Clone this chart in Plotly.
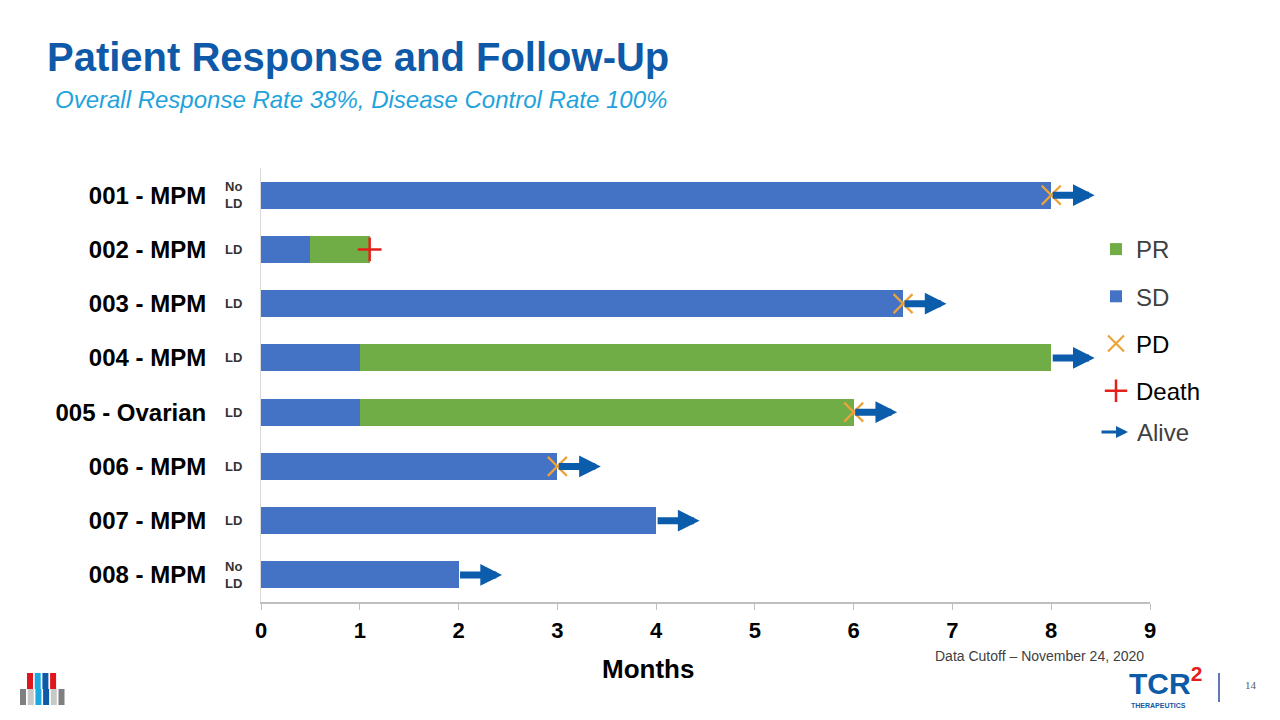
import plotly.graph_objects as go

# --- data -------------------------------------------------------------------
patients = ["001 - MPM", "002 - MPM", "003 - MPM", "004 - MPM",
            "005 - Ovarian", "006 - MPM", "007 - MPM", "008 - MPM"]
ld_status = ["No<br>LD", "LD", "LD", "LD", "LD", "LD", "LD", "No<br>LD"]
sd_months = [8, 0.5, 6.5, 1, 1, 3, 4, 2]
pr_months = [0, 0.6, 0, 7, 5, 0, 0, 0]
pd_months = [8, None, 6.5, None, 6, 3, None, None]
death_months = [None, 1.1, None, None, None, None, None, None]
alive = [True, False, True, True, True, True, True, True]
month_ticks = list(range(10))

SD_BLUE = "#4472C4"
PR_GREEN = "#70AD47"
PD_ORANGE = "#EDA23A"
DEATH_RED = "#E3201B"
ARROW_BLUE = "#0B5CAB"
FONT = "Liberation Sans, Arial, sans-serif"

ARROW_LEN = 0.44  # months, visual length of the "Alive" arrow

rows = list(range(len(patients)))

# the page body adds an 8px margin, so target pixels are shifted back by it
OFF = 8
PLOT_L, PLOT_R, PLOT_T, PLOT_B = 261 - OFF, 1150 - OFF, 168 - OFF, 602 - OFF


def px_x(px):
    return (px - OFF - PLOT_L) / (PLOT_R - PLOT_L)


def px_y(py):
    return (PLOT_B - (py - OFF)) / (PLOT_B - PLOT_T)


fig = go.Figure()

fig.add_trace(go.Bar(
    x=sd_months, y=rows, orientation="h", name="SD",
    marker=dict(color=SD_BLUE, line=dict(width=0)),
    legendrank=2, legendgroup="sd", hoverinfo="x",
))
fig.add_trace(go.Bar(
    x=pr_months, y=rows, orientation="h", name="PR",
    marker=dict(color=PR_GREEN, line=dict(width=0)),
    legendrank=1, legendgroup="pr", hoverinfo="x",
))

pd_x = [v for v in pd_months if v is not None]
pd_y = [r for r, v in zip(rows, pd_months) if v is not None]
fig.add_trace(go.Scatter(
    x=pd_x, y=pd_y, mode="markers", name="<span style='color:#000'>PD</span>",
    marker=dict(symbol="x-thin", size=19, line=dict(color=PD_ORANGE, width=2.2)),
    legendrank=3, legendgroup="pd",
))

death_x = [v for v in death_months if v is not None]
death_y = [r for r, v in zip(rows, death_months) if v is not None]
fig.add_trace(go.Scatter(
    x=death_x, y=death_y, mode="markers", name="<span style='color:#000'>Death</span>",
    marker=dict(symbol="cross-thin", size=17, line=dict(color=DEATH_RED, width=2.5)),
    legendrank=4, legendgroup="death",
))

annotations = []

# "Alive" arrows at the end of each ongoing bar
for r, sd, pr, a in zip(rows, sd_months, pr_months, alive):
    if not a:
        continue
    end = sd + pr
    annotations.append(dict(
        x=end + ARROW_LEN, y=r, xref="x", yref="y",
        ax=end, ay=0, axref="x",
        text="", showarrow=True, arrowhead=2, arrowsize=0.62,
        arrowwidth=7, arrowcolor=ARROW_BLUE,
    ))

# LD / No LD labels next to the category axis
for r, ld in zip(rows, ld_status):
    annotations.append(dict(
        x=0, y=r, xref="x", yref="y", text=ld, showarrow=False,
        xanchor="right", xshift=-17, align="left",
        font=dict(family=FONT, size=13, color="#333333", weight="bold"),
    ))

# legend entry for the arrow
annotations.append(dict(
    x=px_x(1128), y=px_y(432), xref="paper", yref="paper",
    ax=-28, ay=0, text="", showarrow=True, arrowhead=2, arrowsize=0.8,
    arrowwidth=3, arrowcolor=ARROW_BLUE,
))
annotations.append(dict(
    x=px_x(1135), y=px_y(432), xref="paper", yref="paper", text="Alive",
    showarrow=False, xanchor="left", yanchor="middle",
    font=dict(family=FONT, size=24, color="#404040"),
))

# subtitle, axis title, footer
annotations.append(dict(
    x=px_x(53), y=px_y(99), xref="paper", yref="paper",
    text="<i>Overall Response Rate 38%, Disease Control Rate 100%</i>",
    showarrow=False, xanchor="left", yanchor="middle",
    font=dict(family=FONT, size=24, color="#1FA3DC"),
))
annotations.append(dict(
    x=px_x(648), y=px_y(669), xref="paper", yref="paper", text="<b>Months</b>",
    showarrow=False, xanchor="center", yanchor="middle",
    font=dict(family=FONT, size=26, color="#000000"),
))
annotations.append(dict(
    x=px_x(933), y=px_y(656), xref="paper", yref="paper",
    text="Data Cutoff \u2013 November 24, 2020",
    showarrow=False, xanchor="left", yanchor="middle",
    font=dict(family=FONT, size=14, color="#404040"),
))
annotations.append(dict(
    x=px_x(1127), y=px_y(681), xref="paper", yref="paper",
    text="<b>TCR<sup><span style='color:#E3201B'>2</span></sup></b>",
    showarrow=False, xanchor="left", yanchor="middle",
    font=dict(family=FONT, size=30, color="#0D5AA7"),
))
annotations.append(dict(
    x=px_x(1129), y=px_y(705), xref="paper", yref="paper",
    text="<b>THERAPEUTICS</b>",
    showarrow=False, xanchor="left", yanchor="middle",
    font=dict(family=FONT, size=7, color="#0D5AA7"),
))
annotations.append(dict(
    x=px_x(1243), y=px_y(685), xref="paper", yref="paper", text="14",
    showarrow=False, xanchor="left", yanchor="middle",
    font=dict(family="Liberation Serif, serif", size=11, color="#595959"),
))

# small decorative logo bottom-left and divider bar bottom-right
shapes = [dict(type="line", xref="paper", yref="paper",
               x0=px_x(1219), x1=px_x(1219), y0=px_y(673), y1=px_y(702),
               line=dict(color="#2E4A9E", width=1.5))]
logo_top = ["#E0161E", "#1EA8E0", "#0D5AA7", "#E0161E"]
logo_bottom = ["#7F7F7F", "#C8C8C8", "#1EA8E0", "#0D5AA7", "#C8C8C8", "#7F7F7F"]
for i, c in enumerate(logo_top):
    cx = 30 + i * 7.7
    shapes.append(dict(type="rect", xref="paper", yref="paper",
                       x0=px_x(cx - 3), x1=px_x(cx + 3), y0=px_y(673), y1=px_y(689),
                       fillcolor=c, line=dict(width=0), layer="above"))
for i, c in enumerate(logo_bottom):
    cx = 23 + i * 7.7
    shapes.append(dict(type="rect", xref="paper", yref="paper",
                       x0=px_x(cx - 3), x1=px_x(cx + 3), y0=px_y(689), y1=px_y(705),
                       fillcolor=c, line=dict(width=0), layer="above"))

fig.update_layout(
    template="plotly_white",
    width=1280, height=720,
    margin=dict(l=PLOT_L, r=1280 - PLOT_R, t=PLOT_T, b=720 - PLOT_B,
                autoexpand=False),
    paper_bgcolor="white", plot_bgcolor="white",
    barmode="stack", bargap=0.5,
    font=dict(family=FONT, color="#000000"),
    title=dict(
        text="<b>Patient Response and Follow-Up</b>",
        x=(47 - OFF) / 1280, xanchor="left", xref="container",
        y=1 - (57 - OFF) / 720, yanchor="middle", yref="container",
        font=dict(family=FONT, size=40, color="#0F5AA8"),
    ),
    xaxis=dict(
        range=[0, 9], tickvals=month_ticks, showgrid=False, zeroline=False,
        showline=True, linecolor="#BFBFBF", linewidth=1.5,
        ticks="outside", ticklen=6, tickcolor="#BFBFBF",
        ticklabelstandoff=2, automargin=False,
        tickfont=dict(family=FONT, size=22, color="#000000", weight="bold"),
    ),
    yaxis=dict(
        range=[7.5, -0.5], tickvals=rows, ticktext=patients,
        showgrid=False, zeroline=False,
        showline=True, linecolor="#D9D9D9", linewidth=1,
        ticks="", ticklabelstandoff=49, automargin=False,
        tickfont=dict(family=FONT, size=24, color="#000000", weight="bold"),
    ),
    legend=dict(
        x=px_x(1096), y=px_y(227), xanchor="left", yanchor="top",
        xref="paper", yref="paper",
        font=dict(family=FONT, size=24, color="#404040"),
        tracegroupgap=13, bgcolor="rgba(0,0,0,0)", traceorder="grouped",
    ),
    showlegend=True,
    annotations=annotations,
    shapes=shapes,
)

fig.write_html("out.html")
